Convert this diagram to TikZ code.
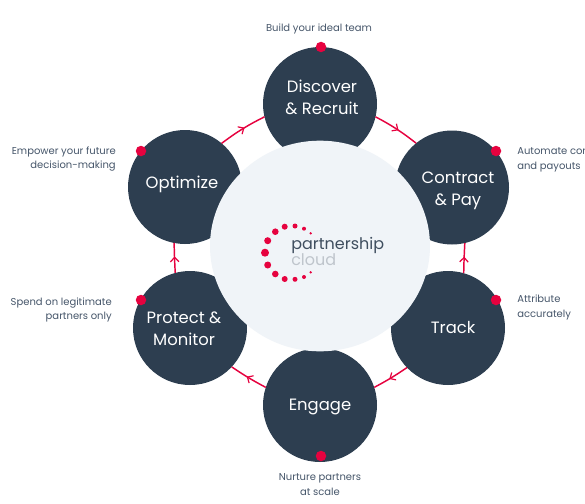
\documentclass[tikz,border=0pt]{standalone}
\usepackage{fontspec}
\setmainfont{Poppins}
\usetikzlibrary{arrows.meta,decorations.markings,shapes.geometric}
\definecolor{navy}{HTML}{2D3E50}
\definecolor{pinkred}{HTML}{E6023F}
\definecolor{pale}{HTML}{F0F4F8}
\definecolor{labelcol}{HTML}{46566A}
\definecolor{cloudcol}{HTML}{BFC5CC}
\newcommand{\pxu}{pt*0.75}
\tikzset{
  disc/.style={circle,fill=navy,minimum size=114\pxu,inner sep=0pt,outer sep=0pt},
  hub/.style={ellipse,fill=pale,inner sep=0pt},
  title/.style={text=white,font=\fontsize{12.3}{16.6}\selectfont,align=center,inner sep=0pt},
  note/.style={text=labelcol,font=\fontsize{7.5}{11.2}\selectfont,inner sep=0pt},
  marker/.style={circle,fill=pinkred,minimum size=10.5\pxu,inner sep=0pt},
  conn/.style={draw=pinkred,line width=1.1pt,postaction={decorate},
    decoration={markings,mark=at position 0.55 with {\arrow{Straight Barb[length=3.4pt,width=6.4pt,line width=.9pt]}}}},
  ld/.style={circle,fill=pinkred,inner sep=0pt},
}
\begin{document}
\begin{tikzpicture}[x=0.75pt,y=-0.75pt]
\clip (0,0) rectangle (585,503);
\fill[white] (0,0) rectangle (585,503);
\node[disc] (disc) at (320,104) {};
\node[disc] (cont) at (452,187.5) {};
\node[disc] (trak) at (448,328) {};
\node[disc] (enga) at (320,405) {};
\node[disc] (prot) at (190,328) {};
\node[disc] (opti) at (185,187) {};
\node[hub,minimum width=165pt,minimum height=158pt] (hub) at (320,246) {};
\draw[conn] (disc.-13) to[bend left=5] (cont.129);
\draw[conn] (trak.74) to[bend left=1] (cont.-77);
\draw[conn] (trak.224) to[bend left=3] (enga.18);
\draw[conn] (enga.162) to[bend left=3] (prot.-43);
\draw[conn] (prot.105) to[bend left=1] (opti.259);
\draw[conn] (opti.50) to[bend left=5] (disc.193);
\node[title] (t1) at (322,97) {Discover\\\& Recruit};
\node[title] (t2) at (458,191) {Contract\\\& Pay};
\node[title] (t3) at (453,328) {Track};
\node[title] (t4) at (320,407) {Engage};
\node[title] (t5) at (184,329) {Protect \&\\Monitor};
\node[title] (t6) at (182,184.5) {Optimize};
\node[marker] (m1) at (321,47) {};
\node[marker] (m2) at (496,151) {};
\node[marker] (m3) at (496,300) {};
\node[marker] (m4) at (321,456) {};
\node[marker] (m5) at (141,300) {};
\node[marker] (m6) at (141,151) {};
\node[note] (n1) at (319,29) {Build your ideal team};
\node[note,anchor=west,align=left] (n2) at (517,159.5) {Automate con\\and payouts};
\node[note,anchor=west,align=left] (n3) at (517,307.5) {Attribute\\accurately};
\node[note,align=center] (n4) at (320,484.5) {Nurture partners\\at scale};
\node[note,anchor=east,align=right] (n5) at (112,310) {Spend on legitimate\\partners only};
\node[note,anchor=east,align=right] (n6) at (116,159) {Empower your future\\decision-making};
\foreach \i/\a/\b/\d in {1/310.7/233.3/2.6,2/304/228.7/4,3/295/226/5,4/284.7/226.7/6,5/275.3/231.7/6.6,6/267.7/240.7/7,7/265/252.7/8,8/267.7/265/7,9/275.3/274/6.6,10/284.7/279/6,11/295/279.3/5,12/304/277/4,13/310.7/272.3/2.6}
  \node[ld,minimum size=\d\pxu] (l\i) at (\a,\b) {};
\node[text=labelcol!90!black,font=\fontsize{12}{14}\selectfont,anchor=base west,inner sep=0pt] (lg1) at (291,249) {partnership};
\node[text=cloudcol,font=\fontsize{12}{14}\selectfont,anchor=base west,inner sep=0pt] (lg2) at (291,265) {cloud};
\end{tikzpicture}
\end{document}
